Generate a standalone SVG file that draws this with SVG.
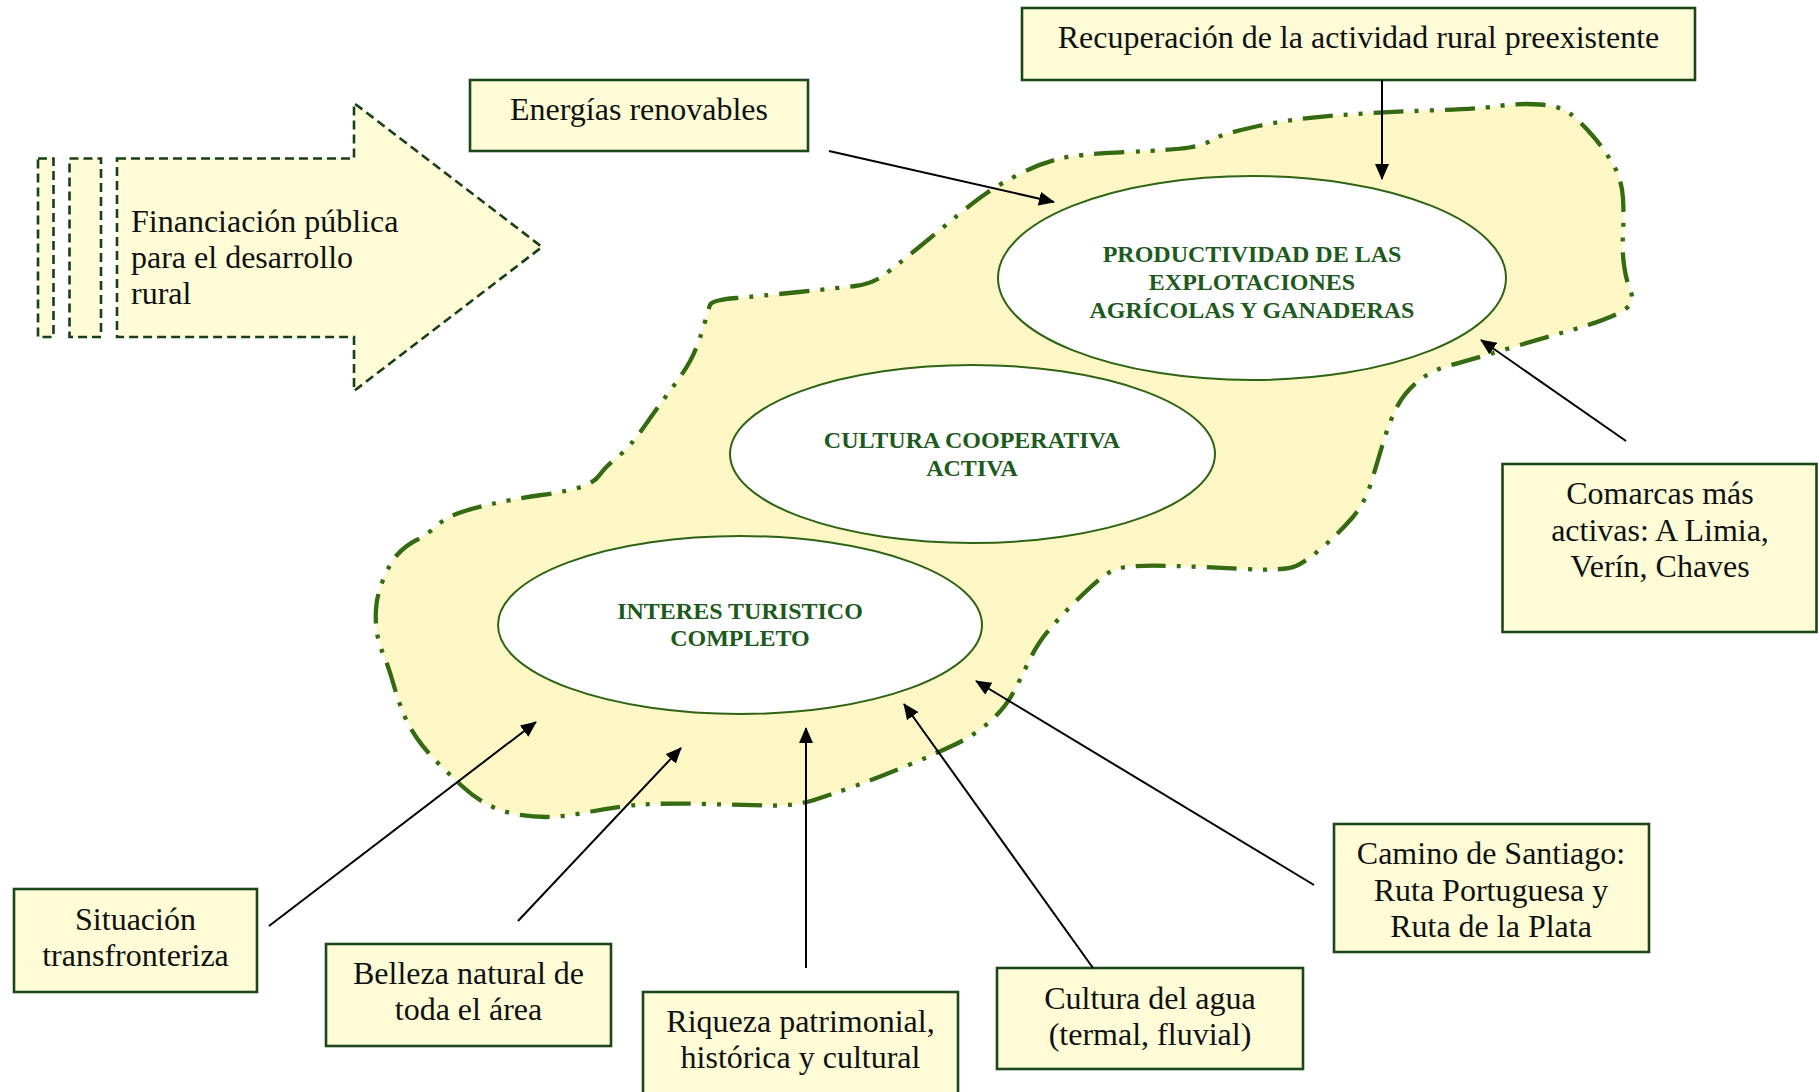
<svg xmlns="http://www.w3.org/2000/svg" width="1818" height="1092" viewBox="0 0 1818 1092">
<defs>
<marker id="ah" viewBox="0 0 16 14" markerWidth="16" markerHeight="14" refX="15" refY="7" orient="auto" markerUnits="userSpaceOnUse">
<path d="M0,0 L16,7 L0,14 Z" fill="#000"/>
</marker>
<style>
.box{fill:#FDFCD6;stroke:#1B471B;stroke-width:2.6}
.t{font-family:"Liberation Serif","Times New Roman",serif;font-size:32px;fill:#111;text-anchor:middle}
.tl{font-family:"Liberation Serif","Times New Roman",serif;font-size:32px;fill:#111}
.et{font-family:"Liberation Serif","Times New Roman",serif;font-size:24px;font-weight:bold;fill:#1D5A1D;text-anchor:middle}
.ell{fill:#fff;stroke:#2E6414;stroke-width:2}
.dash{fill:#FDFCD6;stroke:#183F18;stroke-width:2.6;stroke-dasharray:9 5}
.con{stroke:#000;stroke-width:2;fill:none;marker-end:url(#ah)}
</style>
</defs>
<rect width="1818" height="1092" fill="#fff"/>

<g id="region">
<path d="M710,305 Q712,300 736,298 Q760,296 799,292 Q838,288 855,286 Q872,284 884,275 Q896,266 918,248 Q940,230 957.5,215.5 Q975,201 987.5,192.5 Q1000,184 1020.5,173.5 Q1041,163 1060.5,158.5 Q1080,154 1127,152 Q1174,150 1189.5,147.5 Q1205,145 1211.5,140 Q1218,135 1254,127 Q1290,119 1335,115.5 Q1380,112 1428.5,110.5 Q1477,109 1498.5,106 Q1520,103 1540,104.5 Q1560,106 1570,113.5 Q1580,121 1592.5,135.5 Q1605,150 1613.5,165 Q1622,180 1623,198.5 Q1624,217 1623,233.5 Q1622,250 1624,265 Q1626,280 1631,292.5 Q1636,305 1618,313.5 Q1600,322 1570,330.5 Q1540,339 1505,349.5 Q1470,360 1451,365 Q1432,370 1418.5,381 Q1405,392 1397.5,406 Q1390,420 1384,440 Q1378,460 1371.5,481.5 Q1365,503 1352.5,517.5 Q1340,532 1323.5,546.5 Q1307,561 1296,566 Q1285,571 1246,569 Q1207,567 1173.5,566 Q1140,565 1126,567 Q1112,569 1101,578 Q1090,587 1075,602 Q1060,617 1048.5,630.5 Q1037,644 1028.5,662 Q1020,680 1012.5,694 Q1005,708 990,721.5 Q975,735 955,744.5 Q935,754 907.5,765.5 Q880,777 855,786 Q830,795 812.5,800.5 Q795,806 769,805.5 Q743,805 704.5,804 Q666,803 643,804.5 Q620,806 591.5,811.5 Q563,817 546.5,817 Q530,817 515,814 Q500,811 487.5,804.5 Q475,798 462.5,786.5 Q450,775 437.5,762.5 Q425,750 416.5,737.5 Q408,725 403,712.5 Q398,700 393,682.5 Q388,665 383,653.5 Q378,642 376.5,629 Q375,616 376.5,604 Q378,592 384,577.5 Q390,563 397.5,554.5 Q405,546 416.5,540 Q428,534 436.5,526 Q445,518 457.5,513.5 Q470,509 491.5,504 Q513,499 541.5,495 Q570,491 582.5,486.5 Q595,482 600,474.5 Q605,467 617.5,457 Q630,447 645,425.5 Q660,404 675,384 Q690,364 696,348.5 Q702,333 705,321.5 Q708,310 710,305 Z" fill="#FCF7C5" stroke="#346A11" stroke-width="4.3" stroke-dasharray="30 11 4 11 4 11"/>
</g>

<g id="financiacion">
<rect class="dash" x="38" y="158.5" width="15.5" height="178.5"/>
<rect class="dash" x="69.5" y="158.5" width="31.5" height="178.5"/>
<path class="dash" d="M117,158.5 L354,158.5 L354,103 L542,247 L354,391 L354,337 L117,337 Z"/>
<text class="tl" x="131" y="232">Financiación pública</text>
<text class="tl" x="131" y="268">para el desarrollo</text>
<text class="tl" x="131" y="304">rural</text>
</g>

<g id="productividad">
<ellipse class="ell" cx="1252" cy="278" rx="254" ry="102"/>
<text class="et" x="1252" y="262">PRODUCTIVIDAD DE LAS</text>
<text class="et" x="1252" y="290">EXPLOTACIONES</text>
<text class="et" x="1252" y="318">AGRÍCOLAS Y GANADERAS</text>
</g>

<g id="cultura-cooperativa">
<ellipse class="ell" cx="972.5" cy="454" rx="242.5" ry="89"/>
<text class="et" x="972" y="448">CULTURA COOPERATIVA</text>
<text class="et" x="972" y="476">ACTIVA</text>
</g>

<g id="interes-turistico">
<ellipse class="ell" cx="740" cy="625" rx="242" ry="89"/>
<text class="et" x="740" y="619">INTERES TURISTICO</text>
<text class="et" x="740" y="646">COMPLETO</text>
</g>

<g id="recuperacion">
<rect class="box" x="1022" y="8" width="673" height="72"/>
<text class="t" x="1358.5" y="48">Recuperación de la actividad rural preexistente</text>
</g>

<g id="energias">
<rect class="box" x="470" y="80" width="338" height="71"/>
<text class="t" x="639" y="120">Energías renovables</text>
</g>

<g id="comarcas">
<rect class="box" x="1502.5" y="464" width="314" height="168"/>
<text class="t" x="1660" y="504">Comarcas más</text>
<text class="t" x="1660" y="541">activas: A Limia,</text>
<text class="t" x="1660" y="577">Verín, Chaves</text>
</g>

<g id="camino">
<rect class="box" x="1334" y="824" width="315" height="128"/>
<text class="t" x="1491" y="864">Camino de Santiago:</text>
<text class="t" x="1491" y="901">Ruta Portuguesa y</text>
<text class="t" x="1491" y="937">Ruta de la Plata</text>
</g>

<g id="situacion">
<rect class="box" x="14" y="889" width="243" height="103"/>
<text class="t" x="135.5" y="930">Situación</text>
<text class="t" x="135.5" y="966">transfronteriza</text>
</g>

<g id="belleza">
<rect class="box" x="326" y="944" width="285" height="102"/>
<text class="t" x="468.5" y="984">Belleza natural de</text>
<text class="t" x="468.5" y="1020">toda el área</text>
</g>

<g id="riqueza">
<rect class="box" x="643" y="992" width="315" height="110"/>
<text class="t" x="800.5" y="1032">Riqueza patrimonial,</text>
<text class="t" x="800.5" y="1068">histórica y cultural</text>
</g>

<g id="agua">
<rect class="box" x="997" y="968" width="306" height="101"/>
<text class="t" x="1150" y="1009">Cultura del agua</text>
<text class="t" x="1150" y="1045">(termal, fluvial)</text>
</g>

<g id="connectors">
<line class="con" x1="1382" y1="80" x2="1382" y2="179"/>
<line class="con" x1="829" y1="151" x2="1054" y2="202"/>
<line class="con" x1="1626" y1="441" x2="1481" y2="340"/>
<line class="con" x1="269" y1="926" x2="536" y2="722"/>
<line class="con" x1="518" y1="921" x2="681" y2="748"/>
<line class="con" x1="806" y1="968" x2="806" y2="728"/>
<line class="con" x1="1093" y1="968" x2="904" y2="704"/>
<line class="con" x1="1314" y1="885" x2="976" y2="681"/>
</g>
</svg>
